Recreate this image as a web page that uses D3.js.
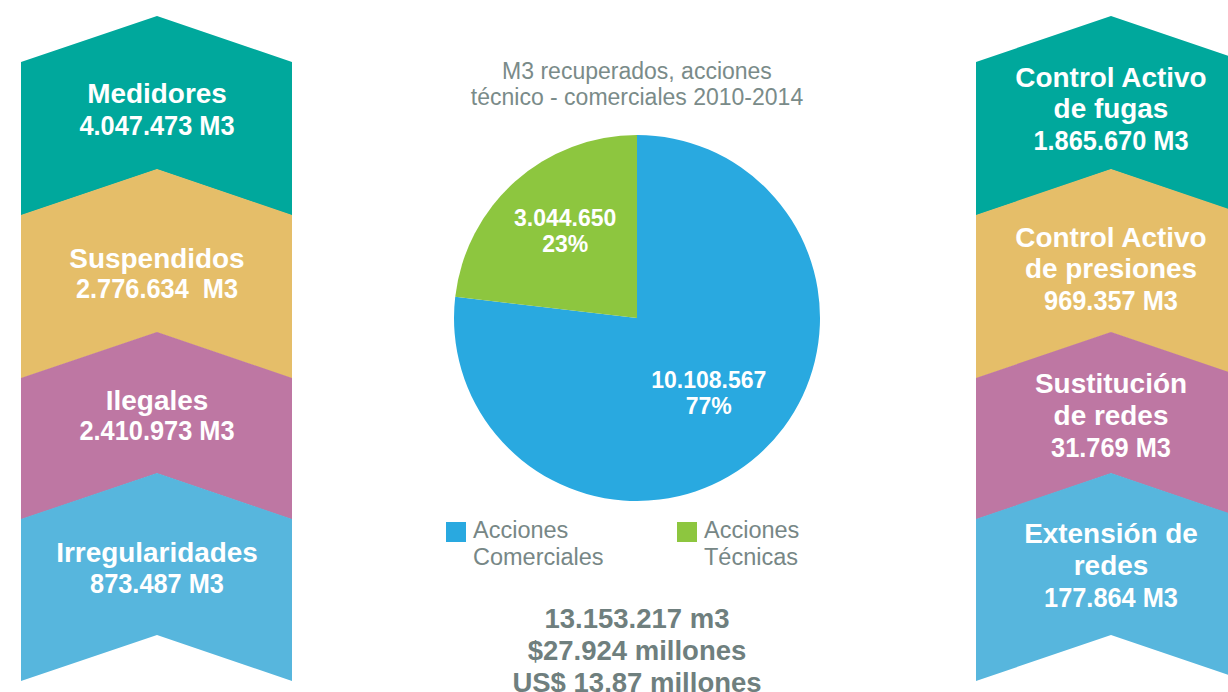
<!DOCTYPE html>
<html>
<head>
<meta charset="utf-8">
<script src="https://cdn.jsdelivr.net/npm/d3@7"></script>
<style>
  html, body { margin: 0; padding: 0; background: #ffffff; }
  svg { display: block; }
  text { font-family: "Liberation Sans", Arial, Helvetica, sans-serif; }
</style>
</head>
<body>
<svg id="chart" width="1228" height="692"></svg>
<script>
// ---------- DATA ----------
const leftCategories = [["Medidores"], ["Suspendidos"], ["Ilegales"], ["Irregularidades"]];
const leftValues = ["4.047.473 M3", "2.776.634  M3", "2.410.973 M3", "873.487 M3"];

const rightCategories = [["Control Activo", "de fugas"], ["Control Activo", "de presiones"], ["Sustitución", "de redes"], ["Extensión de", "redes"]];
const rightValues = ["1.865.670 M3", "969.357 M3", "31.769 M3", "177.864 M3"];

const pieCategories = ["Acciones Comerciales", "Acciones Técnicas"];
const pieValues = [10108567, 3044650];
const pieLabelValues = ["10.108.567", "3.044.650"];
const piePercents = ["77%", "23%"];

const titleLines = ["M3 recuperados, acciones", "técnico - comerciales 2010-2014"];
const legendLines = [["Acciones", "Comerciales"], ["Acciones", "Técnicas"]];
const totalLines = ["13.153.217 m3", "$27.924 millones", "US$ 13.87 millones"];

// ---------- STYLE / LAYOUT ----------
const bandColors = ["#00A89C", "#E5BE69", "#BE77A3", "#57B6DD"];
const pieColors = ["#29A9E0", "#8DC63F"];
const grayTitle = "#7A8B89";
const grayTotals = "#6F7F7E";

const svg = d3.select("#chart");

// band edge y positions (at sides) and peak height
const bandEdges = [62, 215, 378, 519, 681];
const peak = 46;

function bandPath(x0, x1, xc, top, bottom) {
  return d3.line()([
    [x0, top], [xc, top - peak], [x1, top],
    [x1, bottom], [xc, bottom - peak], [x0, bottom]
  ]) + "Z";
}

function drawColumn(x0, x1, xc, cats, vals, baselines) {
  const g = svg.append("g");
  cats.forEach((c, i) => {
    g.append("path")
      .attr("d", bandPath(x0, x1, xc, bandEdges[i], bandEdges[i + 1] + (i < cats.length - 1 ? 0.6 : 0)))
      .attr("fill", bandColors[i]);
  });
  cats.forEach((c, i) => {
    const lines = c.concat([vals[i]]);
    lines.forEach((t, j) => {
      const isVal = j === lines.length - 1;
      g.append("g")
        .attr("transform", `translate(${xc},${baselines[i][j]}) scale(${isVal ? 0.89 : 0.98},1)`)
        .append("text")
        .attr("text-anchor", "middle")
        .attr("font-size", 28.5)
        .attr("font-weight", "bold")
        .attr("fill", "#ffffff")
        .style("white-space", "pre")
        .text(t);
    });
  });
}

drawColumn(21, 292, 157, leftCategories, leftValues,
  [[103, 135], [268, 298], [410, 440], [562, 593]]);
drawColumn(976, 1246, 1111, rightCategories, rightValues,
  [[87, 118, 150], [247, 278, 310], [393, 425, 457], [543, 575, 607]]);

// ---------- TITLE ----------
const cx = 637, cy = 318, r = 183;
svg.append("g").selectAll("text").data(titleLines).join("text")
  .attr("x", cx)
  .attr("y", (d, i) => 79 + i * 26)
  .attr("text-anchor", "middle")
  .attr("font-size", 23)
  .attr("fill", grayTitle)
  .text(d => d);

// ---------- PIE ----------
const pie = d3.pie().sort(null).value(d => d)(pieValues);
const arc = d3.arc().innerRadius(0).outerRadius(r);
const pg = svg.append("g").attr("transform", `translate(${cx},${cy})`);
pg.selectAll("path").data(pie).join("path")
  .attr("d", arc)
  .attr("fill", (d, i) => pieColors[i]);

// label positions via centroid of a label arc
const labelArc = d3.arc().innerRadius(0).outerRadius(216);
pie.forEach((d, i) => {
  const c = labelArc.centroid(d);
  const lx = c[0], ly = c[1];
  const t = pg.append("text")
    .attr("text-anchor", "middle")
    .attr("font-size", 23)
    .attr("font-weight", "bold")
    .attr("fill", "#ffffff");
  t.append("tspan").attr("x", lx).attr("y", ly - 11).text(pieLabelValues[i]);
  t.append("tspan").attr("x", lx).attr("y", ly + 15).text(piePercents[i]);
});

// ---------- LEGEND ----------
const legendX = [446, 677];
legendLines.forEach((lines, i) => {
  const lg = svg.append("g").attr("transform", `translate(${legendX[i]},522)`);
  lg.append("rect").attr("width", 20).attr("height", 20).attr("fill", pieColors[i]);
  lines.forEach((t, j) => {
    lg.append("text")
      .attr("x", 27)
      .attr("y", 16 + j * 27)
      .attr("font-size", 23.5)
      .attr("fill", "#778786")
      .text(t);
  });
});

// ---------- TOTALS ----------
svg.append("g").selectAll("text").data(totalLines).join("text")
  .attr("x", cx)
  .attr("y", (d, i) => 628 + i * 32)
  .attr("text-anchor", "middle")
  .attr("font-size", 27.5)
  .attr("font-weight", "bold")
  .attr("fill", grayTotals)
  .text(d => d);
</script>
</body>
</html>
